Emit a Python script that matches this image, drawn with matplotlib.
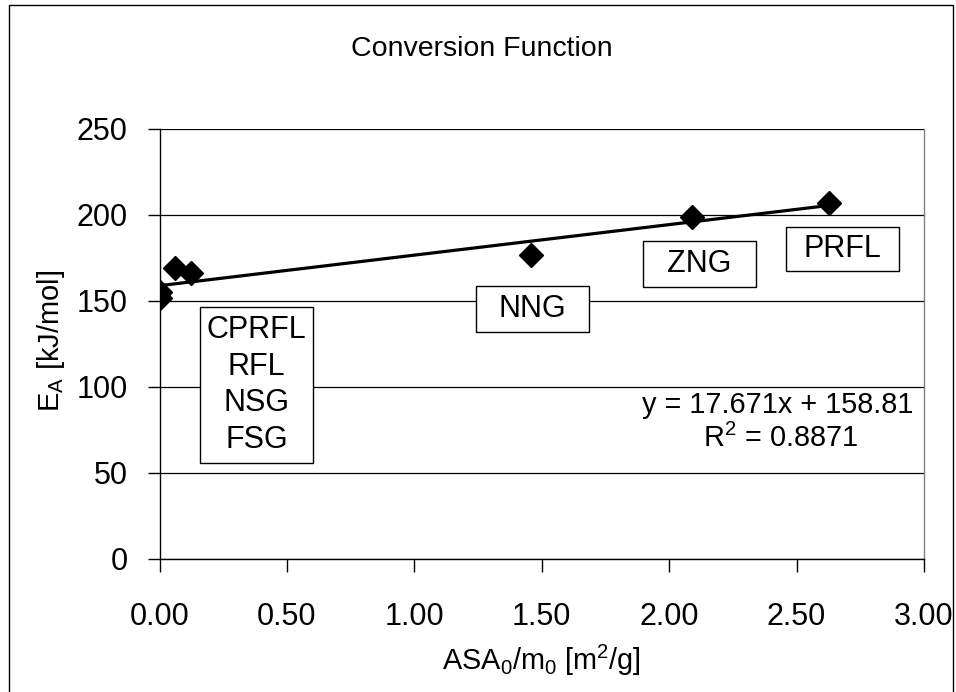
import numpy as np
import matplotlib
matplotlib.use("Agg")
import matplotlib.pyplot as plt
from matplotlib.patches import Rectangle

plt.rcParams['font.family'] = ['Liberation Sans', 'DejaVu Sans']

# Data
asa = [0.003, 0.003, 0.062, 0.124, 1.459, 2.088, 2.628]
ea = [155.4, 151.6, 169.0, 166.5, 176.7, 199.0, 207.2]
xticks = [0.0, 0.5, 1.0, 1.5, 2.0, 2.5, 3.0]
xticklabels = ["0.00", "0.50", "1.00", "1.50", "2.00", "2.50", "3.00"]
yticks = [0, 50, 100, 150, 200, 250]
eq_text = "y = 17.671x + 158.81"
r2_text = "$\\mathregular{R^2}$ = 0.8871"

W, H = 956, 692
fig = plt.figure(figsize=(W / 100, H / 100), dpi=100)
ax = fig.add_axes([159.5 / W, 1 - 559 / H, (924 - 159.5) / W, (559 - 129) / H])

# outer frame
fig.patches.append(Rectangle((9 / W, -0.05), (953 - 9) / W, 1.05 - 5 / H,
                             transform=fig.transFigure, fill=False,
                             edgecolor='black', linewidth=1.0))

x = np.array(asa)
y = np.array(ea)
k, b = np.polyfit(x, y, 1)
xl = np.array([0.0, x.max()])
ax.plot(xl, k * xl + b, color='black', linewidth=2.3, zorder=3, solid_capstyle='butt')
ax.plot(x, y, linestyle='none', marker='D', markersize=12.5, color='black', zorder=4)

ax.set_xlim(0, 3)
ax.set_ylim(0, 250)
ax.set_xticks(xticks)
ax.set_xticklabels(xticklabels)
ax.set_yticks(yticks)
ax.tick_params(axis='both', labelsize=22, direction='out', width=1, color='black', length=9)
ax.tick_params(axis='x', pad=22)
ax.tick_params(axis='y', pad=14)
ax.yaxis.grid(True, color='black', linewidth=0.9)
ax.set_axisbelow(True)
for s in ['left', 'bottom']:
    ax.spines[s].set_color('black')
    ax.spines[s].set_linewidth(1.0)
for s in ['right', 'top']:
    ax.spines[s].set_color('#808080')
    ax.spines[s].set_linewidth(1.0)
ax.spines['top'].set_visible(False)

fig.text(482 / W, 1 - 56 / H, "Conversion Function", ha='center', va='baseline', fontsize=20.5)
fig.text(541 / W, 1 - 670 / H, "ASA$\\mathregular{_0}$/m$\\mathregular{_0}$ [m$\\mathregular{^2}$/g]",
         ha='center', va='baseline', fontsize=20.8)
fig.text(51 / W, 1 - 341 / H, "E$\\mathregular{_A}$ [kJ/mol]", ha='center', va='center',
         fontsize=21, rotation=90)

def boxlabel(px, py, txt, w, h, fs=22):
    rx0 = (px - w / 2) / W
    ry0 = 1 - (py + h / 2) / H
    fig.patches.append(Rectangle((rx0, ry0), w / W, h / H, transform=fig.transFigure,
                                 facecolor='white', edgecolor='black', linewidth=1.0, zorder=5))
    fig.text(px / W, 1 - py / H, txt, ha='center', va='center', fontsize=fs,
             linespacing=1.28, zorder=6)

boxlabel(256.5, 385, "CPRFL\nRFL\nNSG\nFSG", 113, 156)
boxlabel(532.5, 309, "NNG", 113, 46)
boxlabel(699.5, 264, "ZNG", 113, 46)
boxlabel(842.5, 249, "PRFL", 113, 44)

fig.text(913 / W, 1 - 413 / H, eq_text, ha='right', va='baseline', fontsize=20.8)
fig.text(858 / W, 1 - 447 / H, r2_text, ha='right', va='baseline', fontsize=20.8)

fig.savefig("out.png", dpi=100)
